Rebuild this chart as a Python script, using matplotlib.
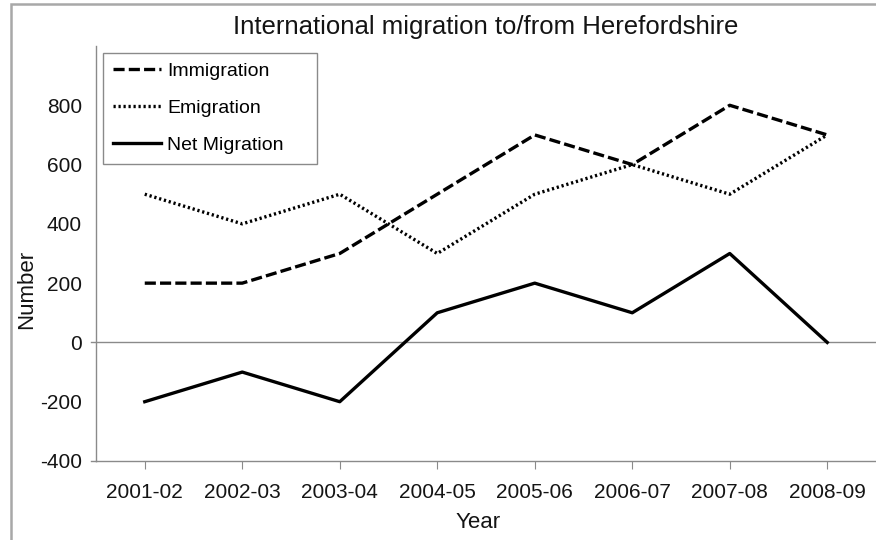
import matplotlib
matplotlib.use("Agg")
import matplotlib.pyplot as plt
from matplotlib.patches import Rectangle

plt.rcParams['font.family'] = ['Liberation Sans', 'DejaVu Sans']
plt.rcParams['lines.scale_dashes'] = False

years = ["2001-02", "2002-03", "2003-04", "2004-05", "2005-06", "2006-07", "2007-08", "2008-09"]
immigration = [200, 200, 300, 500, 700, 600, 800, 700]
emigration = [500, 400, 500, 300, 500, 600, 500, 700]
net_migration = [-200, -100, -200, 100, 200, 100, 300, 0]
y_ticks = [-400, -200, 0, 200, 400, 600, 800]

fig = plt.figure(figsize=(8.76, 5.4), dpi=100)
ax = fig.add_axes([96/876, 79/540, 780/876, 415/540])

x = list(range(len(years)))
spine_col = "#8a8a8a"
txt = "#141414"

ax.plot(x, immigration, color="black", lw=2.4, dashes=(8, 3), label="Immigration")
ax.plot(x, emigration, color="black", lw=2.4, dashes=(1.6, 2.0), label="Emigration")
ax.plot(x, net_migration, color="black", lw=2.4, label="Net Migration")

ax.set_xlim(-0.5, len(years) - 0.5)
ax.set_ylim(-400, 1000)
ax.set_yticks(y_ticks)
ax.set_yticklabels([str(v) for v in y_ticks])
ax.set_xticks(x)
ax.set_xticklabels(years)

ax.plot([-0.006, 1], [0, 0], transform=ax.get_yaxis_transform(), color=spine_col,
        lw=1.0, clip_on=False, zorder=1)
ax.plot([-0.006, 0], [-400, -400], transform=ax.get_yaxis_transform(), color=spine_col,
        lw=1.0, clip_on=False, zorder=1)

for s in ["top", "right"]:
    ax.spines[s].set_visible(False)
for s in ["left", "bottom"]:
    ax.spines[s].set_color(spine_col)
    ax.spines[s].set_linewidth(1.0)

ax.tick_params(axis="x", length=6, colors=spine_col, labelcolor=txt, labelsize=15, pad=10)
ax.tick_params(axis="y", length=0, labelsize=15, pad=10, labelcolor=txt)

ax.set_xlabel("Year", fontsize=16, color=txt)
ax.xaxis.set_label_coords(0.49, -0.122)
ax.set_ylabel("Number", fontsize=16, color=txt)
ax.yaxis.set_label_coords(-0.075, 0.414)
ax.set_title("International migration to/from Herefordshire", fontsize=18.5, pad=9, color=txt)

leg = ax.legend(loc="upper left", bbox_to_anchor=(7/780, 1 - 11/415, 214/780, 0.01), mode="expand",
                fontsize=14, frameon=True, fancybox=False, edgecolor=spine_col, framealpha=1,
                handlelength=2.5, handletextpad=0.3, labelspacing=1.0,
                borderpad=0.5, borderaxespad=0)
leg.get_frame().set_linewidth(1.0)

fig.patches.append(Rectangle((11/876, -0.1), 1.2, (540 - 4)/540 + 0.1, transform=fig.transFigure,
                             fill=False, edgecolor="#a8a8a8", lw=1.8))

fig.savefig("out.png", dpi=100)
